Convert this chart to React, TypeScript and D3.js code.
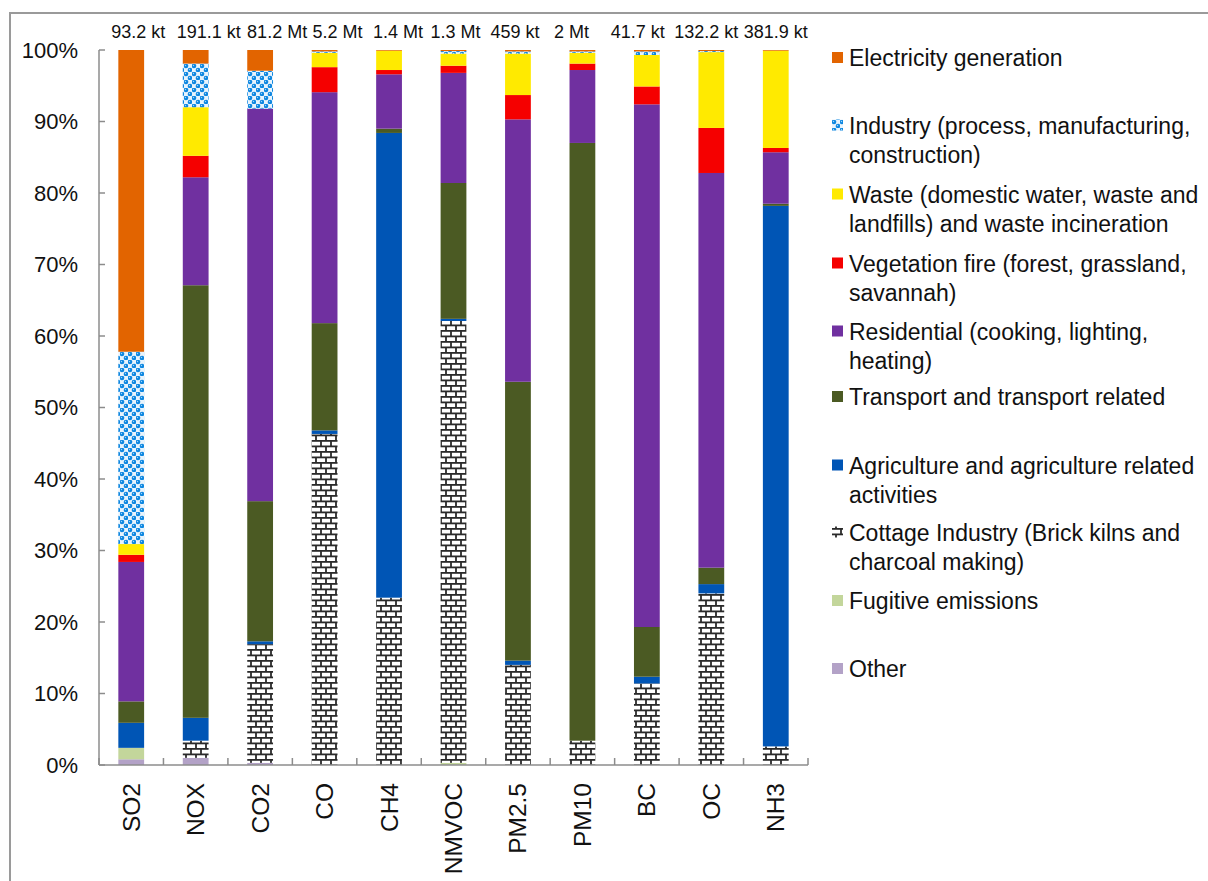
import React from "react";
import * as d3 from "d3";

const categories = ["SO2", "NOX", "CO2", "CO", "CH4", "NMVOC", "PM2.5", "PM10", "BC", "OC", "NH3"];
const totals = ["93.2 kt", "191.1 kt", "81.2 Mt", "5.2 Mt", "1.4 Mt", "1.3 Mt", "459 kt", "2 Mt", "41.7 kt", "132.2 kt", "381.9 kt"];

// share (%) of each sector, bottom-to-top stacking order
const other = [0.8, 1.0, 0.3, 0, 0, 0, 0, 0, 0, 0, 0];
const fugitive = [1.6, 0, 0, 0, 0, 0.3, 0, 0, 0, 0, 0];
const cottage = [0, 2.4, 16.6, 46.3, 23.4, 61.8, 14.0, 3.4, 11.4, 24.0, 2.6];
const agriculture = [3.5, 3.2, 0.4, 0.5, 65.0, 0.3, 0.6, 0, 0.95, 1.3, 75.6];
const transport = [3.0, 60.5, 19.6, 15.0, 0.6, 19.0, 39.0, 83.6, 6.95, 2.3, 0.3];
const residential = [19.5, 15.1, 54.9, 32.3, 7.6, 15.4, 36.7, 10.2, 73.1, 55.2, 7.2];
const vegetation = [1.0, 3.0, 0, 3.5, 0.6, 1.0, 3.4, 0.9, 2.5, 6.3, 0.6];
const waste = [1.5, 6.8, 0, 2.0, 2.7, 1.7, 5.8, 1.5, 4.4, 10.6, 13.6];
const industry = [26.9, 6.1, 5.3, 0.2, 0, 0.35, 0.3, 0.2, 0.5, 0.15, 0];
const electricity = [42.2, 1.9, 2.9, 0.2, 0.1, 0.15, 0.2, 0.2, 0.2, 0.15, 0.1];

const yTicks = [0, 10, 20, 30, 40, 50, 60, 70, 80, 90, 100];

const seriesDefs = [
  { key: "other", values: other, label: ["Other"], fill: "#B3A2C7" },
  { key: "fugitive", values: fugitive, label: ["Fugitive emissions"], fill: "#C3D69B" },
  { key: "cottage", values: cottage, label: ["Cottage Industry (Brick kilns and", "charcoal making)"], fill: "url(#brick)" },
  { key: "agriculture", values: agriculture, label: ["Agriculture and agriculture related", "activities"], fill: "#0055B5" },
  { key: "transport", values: transport, label: ["Transport and transport related"], fill: "#4B5A23" },
  { key: "residential", values: residential, label: ["Residential (cooking, lighting,", "heating)"], fill: "#7030A0" },
  { key: "vegetation", values: vegetation, label: ["Vegetation fire (forest, grassland,", "savannah)"], fill: "#F50000" },
  { key: "waste", values: waste, label: ["Waste (domestic water, waste and", "landfills) and waste incineration"], fill: "#FFEA00" },
  { key: "industry", values: industry, label: ["Industry (process, manufacturing,", "construction)"], fill: "url(#spheres)" },
  { key: "electricity", values: electricity, label: ["Electricity generation"], fill: "#E26400" },
];

// layout constants
const W = 1208;
const H = 881;
const X0 = 99;
const X1 = 808;
const Y_TOP = 50;
const Y_BOT = 765;
const LABEL_NUDGE = [7, 13, 17, 13, 9, 2, -3, -11, -9, -5, 0];
const FONT = "'Liberation Sans', Arial, sans-serif";

export default function App() {
  const x = d3.scaleBand<string>().domain(categories).range([X0, X1]).paddingInner(0.6).paddingOuter(0.3);
  const band = (X1 - X0) / categories.length;
  const y = d3.scaleLinear().domain([0, 100]).range([Y_BOT, Y_TOP]);

  const rows = categories.map((c, i) => {
    const r: Record<string, number | string> = { cat: c };
    seriesDefs.forEach((s) => (r[s.key] = s.values[i]));
    return r;
  });
  const stacked = d3.stack<any>().keys(seriesDefs.map((s) => s.key))(rows as any);

  const legendOrder = [...seriesDefs].reverse();
  const legendCenters = [58, 140, 209, 278, 346, 397, 480, 547, 601, 669];

  return (
    <svg width={W} height={H} style={{ position: "absolute", left: 0, top: 0, background: "#fff" }} fontFamily={FONT}>
      <defs>
        <pattern id="brick" width={10} height={11} patternUnits="userSpaceOnUse">
          <rect width={10} height={11} fill="#fff" />
          <line x1={0} x2={10} y1={0.9} y2={0.9} stroke="#2a2a2a" strokeWidth={1.8} />
          <line x1={0} x2={10} y1={6.4} y2={6.4} stroke="#2a2a2a" strokeWidth={1.8} />
          <line x1={1} x2={1} y1={0} y2={6.4} stroke="#2a2a2a" strokeWidth={1.8} />
          <line x1={6} x2={6} y1={6.4} y2={11} stroke="#2a2a2a" strokeWidth={1.8} />
        </pattern>
        <pattern id="spheres" width={8} height={8} patternUnits="userSpaceOnUse">
          <rect width={8} height={8} fill="#E8F4FD" />
          <circle cx={2} cy={2} r={2.3} fill="#0C86E0" />
          <circle cx={6} cy={6} r={2.3} fill="#0C86E0" />
          <circle cx={1.5} cy={1.5} r={0.7} fill="#9ED4FA" />
          <circle cx={5.5} cy={5.5} r={0.7} fill="#9ED4FA" />
        </pattern>
      </defs>

      {/* outer frame */}
      <path d={`M10,${H} L10,13 L${W},13`} fill="none" stroke="#9A9A9A" strokeWidth={2} />

      {/* bars */}
      {stacked.map((layer, li) => (
        <g key={layer.key} fill={seriesDefs[li].fill}>
          {layer.map((d, i) => {
            const h = y(d[0]) - y(d[1]);
            if (h <= 0) return null;
            return <rect key={i} x={x(categories[i])} width={x.bandwidth()} y={y(d[1])} height={h} />;
          })}
        </g>
      ))}

      {/* y axis */}
      <line x1={X0} x2={X0} y1={Y_TOP} y2={Y_BOT} stroke="#8C8C8C" strokeWidth={1.5} />
      {yTicks.map((t) => (
        <g key={t}>
          <line x1={X0} x2={X0 + 6} y1={y(t)} y2={y(t)} stroke="#8C8C8C" strokeWidth={1.5} />
          <text x={78} y={y(t)} textAnchor="end" dominantBaseline="central" fontSize={22} fill="#111">
            {t}%
          </text>
        </g>
      ))}

      {/* x axis */}
      <line x1={X0} x2={X1} y1={Y_BOT} y2={Y_BOT} stroke="#8C8C8C" strokeWidth={1.5} />
      {d3.range(categories.length + 1).map((i) => (
        <line key={i} x1={X0 + i * band} x2={X0 + i * band} y1={Y_BOT - 7} y2={Y_BOT} stroke="#8C8C8C" strokeWidth={1.5} />
      ))}
      {categories.map((c) => {
        const cx = (x(c) as number) + x.bandwidth() / 2;
        return (
          <text key={c} transform={`translate(${cx},783) rotate(-90)`} textAnchor="end" dominantBaseline="central" fontSize={24.5} fill="#111">
            {c}
          </text>
        );
      })}

      {/* totals */}
      {categories.map((c, i) => {
        const cx = (x(c) as number) + x.bandwidth() / 2 + LABEL_NUDGE[i];
        return (
          <text key={c} x={cx} y={38} textAnchor="middle" fontSize={18} fill="#111">
            {totals[i]}
          </text>
        );
      })}

      {/* legend */}
      {legendOrder.map((s, i) => {
        const cy = legendCenters[i];
        const lines = s.label;
        const lh = 29;
        const firstY = cy - ((lines.length - 1) * lh) / 2;
        return (
          <g key={s.key}>
            <rect x={832} y={firstY - 6} width={11} height={11} fill={s.fill} />
            {lines.map((ln, j) => (
              <text key={j} x={849} y={firstY + j * lh} dominantBaseline="central" fontSize={23} fill="#111">
                {ln}
              </text>
            ))}
          </g>
        );
      })}
    </svg>
  );
}
